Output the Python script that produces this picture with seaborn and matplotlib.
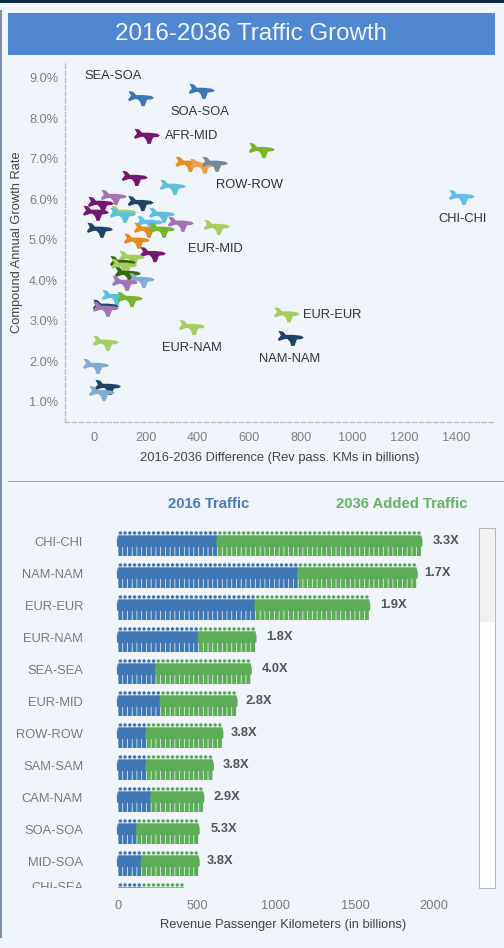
import numpy as np
import pandas as pd
import matplotlib
matplotlib.use("Agg")
import matplotlib.pyplot as plt
from matplotlib.patches import Rectangle
from matplotlib.path import Path
from matplotlib.transforms import Bbox, TransformedBbox
import seaborn as sns

# Top chart: one plane per route
plane_diff = [182, 417, 205, 649, 365, 420, 468, 158, 305, 77, 181, 27, 8, 116, 112,
              263, 336, 475, 216, 205, 263, 23, 166, 228, 147, 112, 117, 131, 185, 120,
              81, 139, 46, 46, 379, 46, 8, 54, 31, 746, 761, 1422]
plane_growth = [8.50, 8.68, 7.57, 7.22, 6.88, 6.83, 6.88, 6.53, 6.31, 6.06, 5.91, 5.89, 5.67, 5.67, 5.62,
                5.62, 5.40, 5.32, 5.42, 5.25, 5.25, 5.25, 4.98, 4.65, 4.56, 4.43, 4.36, 4.16, 4.01, 3.94,
                3.59, 3.54, 3.35, 3.30, 2.85, 2.46, 1.89, 1.37, 1.22, 3.16, 2.58, 6.06]
plane_group = ["blue", "blue", "purple", "green", "orange", "amber", "gray", "purple", "cyan", "mauve",
               "navy", "purple", "purple", "lime", "cyan", "cyan", "mauve", "lime", "sky", "orange",
               "green", "navy", "orange", "purple", "lime", "darkgreen", "lime", "darkgreen", "steel",
               "mauve", "cyan", "green", "navy", "mauve", "lime", "lime", "steel", "navy", "steel",
               "lime", "navy", "sky"]
group_colors = {"blue": "#3d78b4", "purple": "#74176f", "green": "#79b52c", "orange": "#e58a1f",
                "amber": "#eda24f", "gray": "#75899a", "cyan": "#5cc0dc", "mauve": "#a473b3",
                "navy": "#1d4468", "lime": "#a5cd62", "sky": "#62bfe8", "darkgreen": "#35690f",
                "steel": "#86abd0"}

# Labelled planes: route name, index in the lists above, text offset in pixels
plane_labels = [("SEA-SOA", 0, -28, 22), ("SOA-SOA", 1, -2, -21), ("AFR-MID", 2, 45, 0),
                ("ROW-ROW", 6, 34, -21), ("EUR-MID", 17, -1, -22), ("EUR-EUR", 39, 45, 0),
                ("EUR-NAM", 34, 0, -21), ("NAM-NAM", 40, -1, -21), ("CHI-CHI", 41, 1, -22)]

# Bottom chart
routes = ["CHI-CHI", "NAM-NAM", "EUR-EUR", "EUR-NAM", "SEA-SEA", "EUR-MID",
          "ROW-ROW", "SAM-SAM", "CAM-NAM", "SOA-SOA", "MID-SOA", "CHI-SEA"]
traffic_2016 = [620, 1127, 875, 520, 235, 260, 170, 170, 196, 114, 150, 140]
traffic_2036 = [1930, 1880, 1600, 880, 850, 745, 650, 600, 540, 525, 500, 430]
multiples = ["3.3X", "1.7X", "1.9X", "1.8X", "4.0X", "2.8X", "3.8X", "3.8X", "2.9X", "5.3X", "3.8X", ""]
rpk_per_person = 30

W, H = 504, 948
BG = "#f0f4fb"


def box(left, top, right, bottom):
    return [left / W, 1 - bottom / H, (right - left) / W, (bottom - top) / H]


def fig_rect(fig, left, top, right, bottom, **kw):
    fig.add_artist(Rectangle((left / W, 1 - bottom / H), (right - left) / W, (bottom - top) / H,
                             transform=fig.transFigure, linewidth=kw.pop("linewidth", 0), **kw))


# Plane outline, units are pixels, nose to the right
plane = Path([(13, 0.5), (10, 2.3), (2, 3.2), (-5, 3.2), (-8, 6.5), (-12.5, 7.2), (-10, 2.5),
              (-13, -1), (-12, -3), (-6, -1), (-3.5, -1), (-1, -3.5), (0.5, -8), (3.5, -8),
              (6, -1.6), (11, -1), (13, 0.5)], closed=True)

# Person outline, origin is the middle of the row
circle = Path.unit_circle()
head = Path(circle.vertices * 1.75 + [0, 9], circle.codes)
body = Path([(-2.3, 6.7), (2.3, 6.7), (3.5, 2), (3.5, -3.5), (2.4, -5), (-2.4, -5),
             (-3.5, -3.5), (-3.5, 2), (-2.3, 6.7)], closed=True)
legs = Path([(-2, -5), (2, -5), (2, -14), (-2, -14), (-2, -5)], closed=True)
person = Path.make_compound_path(head, body, legs)

sns.set_theme(style="white")
plt.rcParams["font.family"] = ["Liberation Sans", "DejaVu Sans"]

fig = plt.figure(figsize=(W / 100, H / 100), dpi=100, facecolor=BG)

# page furniture
fig_rect(fig, 0, 0, W, 2.5, facecolor="#0d2a4a")
fig_rect(fig, 0, 10, 1.5, 938, facecolor="#7c8ea6")
fig_rect(fig, 8, 13, 495, 55, facecolor="#4f88d1")
fig.text(251 / W, 1 - 34.5 / H, "2016-2036 Traffic Growth", color="#f2f6fc", fontsize=17.4,
         ha="center", va="center")
fig_rect(fig, 8, 480.5, W, 481.8, facecolor="#9aa3ad")

# Scatter of planes
ax1 = fig.add_axes(box(65, 63, 495, 422), facecolor="none")
planes = pd.DataFrame({"diff": plane_diff, "growth": plane_growth, "group": plane_group})
sns.scatterplot(data=planes, x="diff", y="growth", hue="group", palette=group_colors,
                marker=plane, s=350, linewidth=0, legend=False, ax=ax1)
ax1.set_xticks(range(0, 1401, 200))
ax1.set_yticks(range(1, 10), labels=[f"{v}.0%" for v in range(1, 10)])
ax1.set_xlim(-112, 1550)
ax1.set_ylim(0.506, 9.37)
ax1.tick_params(length=0, labelsize=9.2, labelcolor="#808080", pad=5)
ax1.tick_params(axis="x", pad=7)
ax1.set_xlabel("2016-2036 Difference (Rev pass. KMs in billions)", fontsize=9.3, color="#444444", labelpad=6)
ax1.set_ylabel("Compound Annual Growth Rate", fontsize=9.3, color="#444444", labelpad=4)
sns.despine(ax=ax1)
for side in ["left", "bottom"]:
    ax1.spines[side].set_linestyle((0, (3, 2)))
    ax1.spines[side].set_color("#b9bdc4")
    ax1.spines[side].set_linewidth(1)
for t in ax1.get_yticklabels():
    t.set_verticalalignment("center_baseline")
for name, idx, dx, dy in plane_labels:
    ax1.annotate(name, (plane_diff[idx], plane_growth[idx]), xytext=(dx * 0.72, dy * 0.72),
                 textcoords="offset points", ha="center", va="center", fontsize=9.3, color="#2f3238")

# Pictogram bars, one person per rpk_per_person billions
rows = []
for i, (start, end) in enumerate(zip(traffic_2016, traffic_2036)):
    for x in np.arange(rpk_per_person / 2, end, rpk_per_person):
        rows.append({"x": x, "row": i, "kind": "2016" if x < start else "2036"})
people = pd.DataFrame(rows)

ax2 = fig.add_axes(box(90, 526, 470, 887.5), facecolor="none")
sns.scatterplot(data=people, x="x", y="row", hue="kind", palette={"2016": "#3f78b5", "2036": "#5dad58"},
                marker=person, s=406, linewidth=0, legend=False, ax=ax2)
ax2.set_xticks(range(0, 2001, 500))
ax2.set_yticks(range(len(routes) - 1), labels=routes[:-1])
ax2.set_xlim(-177, 2228)
ax2.set_ylim(10.797, -0.5)
ax2.tick_params(length=0, labelsize=9.3, labelcolor="#7a7a7a", pad=5)
ax2.tick_params(axis="x", pad=9)
ax2.set_xlabel("Revenue Passenger Kilometers (in billions)", fontsize=9.3, color="#444444", labelpad=6)
ax2.set_ylabel("")
ax2.xaxis.set_label_coords((283 - 90) / 380, -0.088)
sns.despine(ax=ax2, left=True, bottom=True)
for t in ax2.get_yticklabels():
    t.set_verticalalignment("center_baseline")

# last row is cut off by the scroll area, a tick outside the limits would not be drawn
last = ax2.annotate(routes[-1], (0, len(routes) - 1), xycoords=ax2.get_yaxis_transform(),
                    xytext=(-5, 5.4), textcoords="offset points", ha="right", va="center_baseline",
                    fontsize=9.3, color="#7a7a7a", annotation_clip=False)
last.set_clip_on(True)
last.set_clip_box(TransformedBbox(Bbox.from_extents(0, 1 - 888 / H, 1, 1), fig.transFigure))

for i, (end, label) in enumerate(zip(traffic_2036, multiples)):
    ax2.annotate(label, (end, i), xytext=(7, 1), textcoords="offset points", va="center",
                 fontsize=9.3, fontweight="bold", color="#50555c")

fig.text(208.5 / W, 1 - 504 / H, "2016 Traffic", color="#4a7bb8", fontsize=10.7, fontweight="bold",
         ha="center", va="center")
fig.text(401.5 / W, 1 - 504 / H, "2036 Added Traffic", color="#68b268", fontsize=10.7, fontweight="bold",
         ha="center", va="center")

# scrollbar
fig_rect(fig, 479, 528, 495, 888, facecolor="white", edgecolor="#b5b8bd", linewidth=0.8)
fig_rect(fig, 479.5, 528.5, 494.5, 622, facecolor="#f0f0f0")

fig.savefig("out.png", dpi=100, facecolor=BG)
